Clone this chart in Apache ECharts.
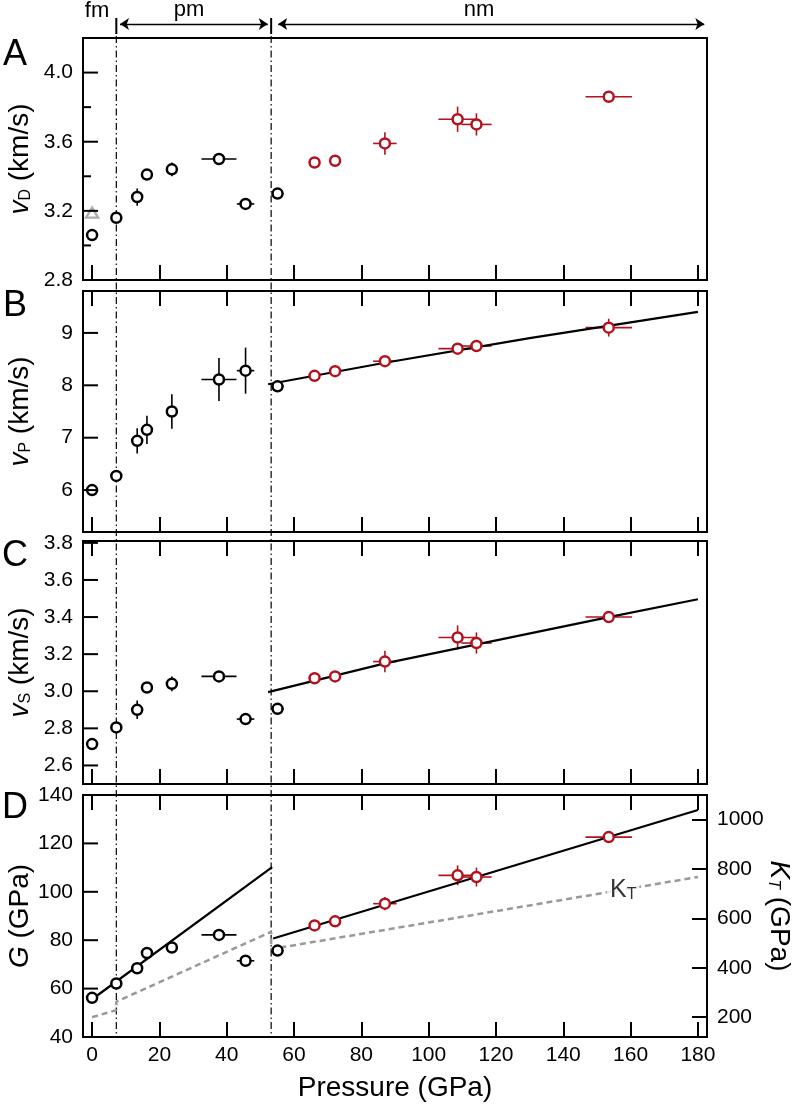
<!DOCTYPE html>
<html><head><meta charset="utf-8">
<script src="https://cdn.jsdelivr.net/npm/echarts@6/dist/echarts.min.js"></script>
<style>html,body{margin:0;padding:0;background:#fff}#c{width:793px;height:1105px}</style>
</head><body><div id="c"></div>
<script>
// ---------- data ----------
const pressureBlack    = [0, 7.2, 13.4, 16.3, 23.7, 37.7, 45.6, 55.1];
const pressureBlackErr = [0, 0, 0, 0, 0, 5.2, 2.6, 1.8];
const pressureRed      = [66.1, 72.2, 87.0, 108.6, 114.2, 153.5];
const pressureRedErr   = [0, 0, 3.5, 5.7, 4.5, 6.9];

const vDBlack    = [3.06, 3.16, 3.28, 3.41, 3.44, 3.50, 3.24, 3.30];
const vDBlackErr = [0, 0, 0.05, 0.02, 0.04, 0, 0, 0];
const vDRed      = [3.48, 3.49, 3.59, 3.73, 3.70, 3.86];
const vDRedErr   = [0, 0, 0.065, 0.073, 0.064, 0];
const vDTriangle = [[0, 3.19]];

const vPBlack    = [6.00, 6.27, 6.94, 7.15, 7.50, 8.11, 8.28, 7.98];
const vPBlackErr = [0, 0, 0.24, 0.27, 0.33, 0.41, 0.44, 0];
const vPRed      = [8.18, 8.27, 8.46, 8.70, 8.75, 9.10];
const vPRedErr   = [0, 0, 0.05, 0.08, 0.07, 0.17];
const vPFitP     = [52.3, 87, 130, 180];
const vPFit      = [8.02, 8.43, 8.90, 9.40];

const vSBlack    = [2.715, 2.805, 2.90, 3.02, 3.04, 3.08, 2.85, 2.905];
const vSBlackErr = [0, 0, 0.05, 0, 0.04, 0, 0, 0];
const vSRed      = [3.07, 3.08, 3.16, 3.29, 3.26, 3.40];
const vSRedErr   = [0, 0, 0.058, 0.065, 0.057, 0];
const vSFitP     = [52.3, 87, 153.5, 180];
const vSFit      = [2.995, 3.15, 3.40, 3.496];

const gBlack     = [56.2, 62.1, 68.4, 74.7, 77.0, 82.2, 71.5, 75.7];
const gBlackErr  = [0, 0, 0, 0, 0, 0, 0, 0];
const gRed       = [86.1, 87.8, 95.1, 106.8, 106.1, 122.6];
const gRedErr    = [0, 0, 2.7, 4.1, 3.9, 0];
const gFitPmP    = [0, 53.5];
const gFitPm     = [55.6, 110.2];
const gFitNmP    = [53.8, 180];
const gFitNm     = [80.7, 133.8];

const kTP        = [0, 7.2, 7.2, 53.2, 53.2, 180];
const kT         = [200, 229, 263, 546, 476, 768];
const kTLabelAt  = [[157.8, 714]];

const phaseBounds = [7.2, 53.2];

const pressureTicks = [0, 20, 40, 60, 80, 100, 120, 140, 160, 180];
const vDTicks      = [2.8, 3.2, 3.6, 4.0];
const vDMinorTicks = [3.0, 3.4, 3.8];
const vPTicks      = [6, 7, 8, 9];
const vSTicks      = [2.6, 2.8, 3.0, 3.2, 3.4, 3.6, 3.8];
const gTicks       = [40, 60, 80, 100, 120, 140];
const kTTicks      = [200, 400, 600, 800, 1000];

// ---------- styling ----------
const FF = "'Liberation Sans', Arial, Helvetica, sans-serif";
const RED = '#b3121d';
const BLACK = '#000';
const xMin = -2.7, xMax = 182.7;
const TICKLEN = 15;
const NAMESIZE = 28;

const grids = [
  {left: 83, top: 38,  width: 624, height: 242},
  {left: 83, top: 291, width: 624, height: 241},
  {left: 83, top: 541, width: 624, height: 243},
  {left: 83, top: 795, width: 624, height: 242},
  {left: 83, top: 0,   width: 624, height: 1037}
].map((g, i) => Object.assign(g, {containLabel: false, outerBoundsMode: 'none'},
  i < 4 ? {show: true, borderColor: BLACK, borderWidth: 2, backgroundColor: 'transparent'} : {show: false}));

function xAx(grid, pos, ticks, labels, extra) {
  return Object.assign({
    type: 'value', gridIndex: grid, position: pos, min: xMin, max: xMax,
    axisLine: {show: false, onZero: false}, splitLine: {show: false},
    axisTick: {show: ticks, inside: true, length: TICKLEN, customValues: pressureTicks, lineStyle: {color: BLACK, width: 2}},
    axisLabel: {show: labels, customValues: pressureTicks, margin: 8, fontSize: 21, color: BLACK, fontFamily: FF}
  }, extra || {});
}
const xAxes = [
  xAx(0, 'bottom', true, false), xAx(0, 'top', false, false),
  xAx(1, 'bottom', true, false), xAx(1, 'top', true, false),
  xAx(2, 'bottom', true, false), xAx(2, 'top', true, false),
  xAx(3, 'bottom', true, true, {
    name: 'Pressure (GPa)', nameLocation: 'middle', nameGap: 37, nameMoveOverlap: false,
    nameTextStyle: {fontSize: NAMESIZE, color: BLACK, fontFamily: FF}
  }), xAx(3, 'top', true, false),
  {type: 'value', gridIndex: 4, min: xMin, max: xMax, show: false, axisLine: {onZero: false}}
];

const subRich = {
  i: {fontStyle: 'italic', fontSize: NAMESIZE, fontFamily: FF, color: BLACK},
  n: {fontSize: NAMESIZE, fontFamily: FF, color: BLACK},
  s: {fontSize: 16, fontFamily: FF, color: BLACK, verticalAlign: 'bottom', lineHeight: 9},
  si: {fontSize: 16, fontStyle: 'italic', fontFamily: FF, color: BLACK, verticalAlign: 'bottom', lineHeight: 9}
};
function yAx(grid, pos, min, max, ticks, fmt, name, gap, rot, showTicks) {
  return {
    type: 'value', gridIndex: grid, position: pos, min: min, max: max,
    axisLine: {show: false, onZero: false}, splitLine: {show: false},
    axisTick: {show: showTicks, inside: true, length: TICKLEN, customValues: ticks, lineStyle: {color: BLACK, width: 2}},
    axisLabel: {show: true, customValues: ticks, formatter: fmt, margin: 10, fontSize: 21, color: BLACK, fontFamily: FF},
    name: name, nameLocation: 'middle', nameGap: gap, nameRotate: rot, nameMoveOverlap: false,
    nameTextStyle: {fontSize: NAMESIZE, color: BLACK, fontFamily: FF, rich: subRich}
  };
}
const f1 = v => (+v).toFixed(1);
const f0 = v => String(Math.round(v));
const yAxes = [
  yAx(0, 'left', 2.8, 4.2, vDTicks, f1, '{i|v}{s|D} {n|(km/s)}', 49, 90, false),   // 0
  yAx(1, 'left', 5.2, 9.8, vPTicks, f0, '{i|v}{s|P} {n|(km/s)}', 49, 90, false),   // 1
  yAx(2, 'left', 2.5, 3.81, vSTicks, f1, '{i|v}{s|S} {n|(km/s)}', 49, 90, false),  // 2
  yAx(3, 'left', 40, 140, gTicks, f0, '{i|G} {n|(GPa)}', 49, 90, false),            // 3
  yAx(3, 'right', 120, 1100, kTTicks, f0, '{i|K}{si|T} {n|(GPa)}', 58, -90, true),  // 4
  {type: 'value', gridIndex: 4, min: 0, max: 1037, inverse: true, show: false, axisLine: {onZero: false}} // 5
];

// ---------- series helpers ----------
function tickSeries(xi, yi, vals, len) {
  return {
    type: 'custom', xAxisIndex: xi, yAxisIndex: yi, silent: true, z: 6, clip: false,
    data: vals.map(v => [xMin, v]), encode: {x: 0, y: 1},
    renderItem: function (params, api) {
      const p = api.coord([api.value(0), api.value(1)]);
      return {type: 'line', shape: {x1: p[0], y1: p[1], x2: p[0] + len, y2: p[1]}, style: {stroke: BLACK, lineWidth: 2}};
    }
  };
}
function errSeries(xi, yi, px, pxe, vy, vye, color) {
  return {
    type: 'custom', xAxisIndex: xi, yAxisIndex: yi, silent: true, z: 2,
    data: px.map((p, i) => [p, vy[i], pxe[i], vye[i]]),
    encode: {x: 0, y: 1},
    renderItem: function (params, api) {
      const x = api.value(0), y = api.value(1), ex = api.value(2), ey = api.value(3);
      const ch = [];
      if (ex > 0) {
        const a = api.coord([x - ex, y]), b = api.coord([x + ex, y]);
        ch.push({type: 'line', shape: {x1: a[0], y1: a[1], x2: b[0], y2: b[1]}, style: {stroke: color, lineWidth: 1.6}});
      }
      if (ey > 0) {
        const a = api.coord([x, y - ey]), b = api.coord([x, y + ey]);
        ch.push({type: 'line', shape: {x1: a[0], y1: a[1], x2: b[0], y2: b[1]}, style: {stroke: color, lineWidth: 1.6}});
      }
      return {type: 'group', children: ch};
    }
  };
}
function dots(xi, yi, px, vy, color) {
  return {
    type: 'scatter', xAxisIndex: xi, yAxisIndex: yi, z: 5, silent: true,
    data: px.map((p, i) => [p, vy[i]]),
    symbol: 'circle', symbolSize: 10,
    itemStyle: {color: '#fff', borderColor: color, borderWidth: 2.5, opacity: 1}
  };
}
function fit(xi, yi, px, vy, extra) {
  return Object.assign({
    type: 'line', xAxisIndex: xi, yAxisIndex: yi, z: 3, silent: true,
    data: px.map((p, i) => [p, vy[i]]), symbol: 'none',
    lineStyle: {color: BLACK, width: 2.2}
  }, extra || {});
}
function panel(xi, yi, yB, yBe, yR, yRe) {
  return [
    errSeries(xi, yi, pressureBlack, pressureBlackErr, yB, yBe, BLACK),
    errSeries(xi, yi, pressureRed, pressureRedErr, yR, yRe, RED),
    dots(xi, yi, pressureBlack, yB, BLACK),
    dots(xi, yi, pressureRed, yR, RED)
  ];
}

const series = [];
// overlay: phase boundaries and header
phaseBounds.forEach(b => {
  series.push({type: 'line', xAxisIndex: 8, yAxisIndex: 5, z: 1, silent: true, symbol: 'none',
    data: [[b, 36], [b, 1037]], lineStyle: {color: BLACK, width: 1.2, type: [7, 3, 1.5, 3]}});
  series.push({type: 'line', xAxisIndex: 8, yAxisIndex: 5, z: 1, silent: true, symbol: 'none',
    data: [[b, 18], [b, 34]], lineStyle: {color: BLACK, width: 2}});
});
series.push({
  type: 'lines', coordinateSystem: 'cartesian2d', xAxisIndex: 8, yAxisIndex: 5, silent: true, z: 1,
  symbol: ['arrow', 'arrow'], symbolSize: 9,
  lineStyle: {color: BLACK, width: 1.3, opacity: 1},
  data: [
    {coords: [[phaseBounds[0] + 1.1, 24], [phaseBounds[1] - 1.0, 24]]},
    {coords: [[phaseBounds[1] + 2.1, 24], [181.9, 24]]}
  ]
});

// left-frame inward ticks
series.push(tickSeries(0, 0, vDTicks, TICKLEN));
series.push(tickSeries(0, 0, vDMinorTicks, 8));
series.push(tickSeries(2, 1, vPTicks, TICKLEN));
series.push(tickSeries(4, 2, vSTicks, TICKLEN));
series.push(tickSeries(6, 3, gTicks, TICKLEN));

// panel A
series.push(...panel(0, 0, vDBlack, vDBlackErr, vDRed, vDRedErr));
series.push({type: 'scatter', xAxisIndex: 0, yAxisIndex: 0, z: 4, silent: true, data: vDTriangle,
  symbol: 'triangle', symbolSize: [12, 10], itemStyle: {color: '#fff', borderColor: '#999', borderWidth: 2.4}});
// panel B
series.push(fit(2, 1, vPFitP, vPFit));
series.push(...panel(2, 1, vPBlack, vPBlackErr, vPRed, vPRedErr));
// panel C
series.push(fit(4, 2, vSFitP, vSFit));
series.push(...panel(4, 2, vSBlack, vSBlackErr, vSRed, vSRedErr));
// panel D
series.push(fit(6, 4, kTP, kT, {lineStyle: {color: '#999', width: 2.5, type: [6, 4]}, z: 2}));
series.push(fit(6, 3, gFitPmP, gFitPm));
series.push(fit(6, 3, gFitNmP, gFitNm));
series.push(...panel(6, 3, gBlack, gBlackErr, gRed, gRedErr));
series.push({type: 'scatter', xAxisIndex: 6, yAxisIndex: 4, z: 4, silent: true, data: kTLabelAt,
  symbolSize: 1, itemStyle: {color: 'transparent'},
  label: {show: true, position: 'inside', formatter: '{k|K}{t|T}', backgroundColor: '#fff', padding: [0, 3, 0, 3],
    rich: {k: {fontSize: 25, fontFamily: FF, color: BLACK},
           t: {fontSize: 16, fontFamily: FF, color: BLACK, verticalAlign: 'bottom', lineHeight: 12}}}
});

const txt = (t, x, y, size, extra) => Object.assign({type: 'text', x: x, y: y, silent: true,
  style: {text: t, fontSize: size, fontFamily: FF, fill: BLACK, align: 'center', verticalAlign: 'middle'}}, extra || {});

const option = {
  animation: false,
  backgroundColor: '#fff',
  grid: grids, xAxis: xAxes, yAxis: yAxes, series: series,
  graphic: [
    txt('A', 15, 55, 36), txt('B', 15, 306, 36), txt('C', 15, 556, 36), txt('D', 15, 808, 36),
    txt('fm', 97, 11, 22), txt('pm', 189, 10, 22), txt('nm', 479, 10, 22)
  ]
};
const chart = echarts.init(document.getElementById('c'), null, {renderer: 'canvas'});
chart.setOption(option);
</script>
</body></html>
